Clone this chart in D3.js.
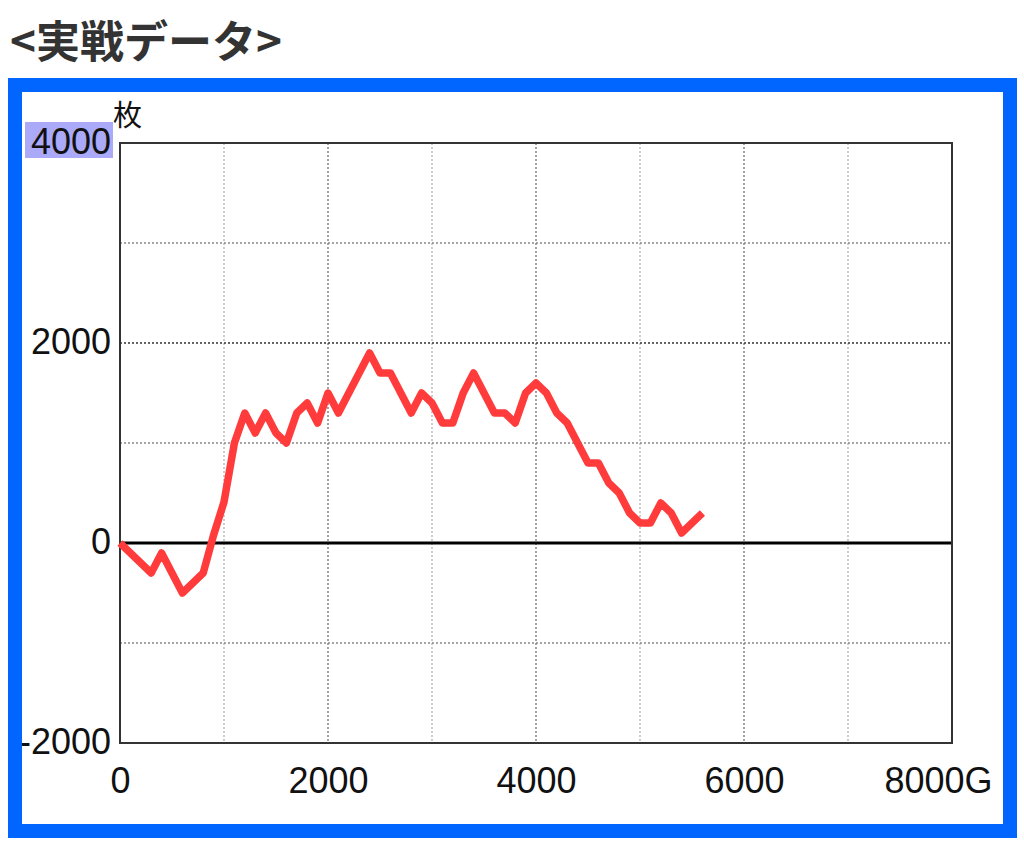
<!DOCTYPE html>
<html><head><meta charset="utf-8">
<script src="https://cdn.jsdelivr.net/npm/d3@7"></script>
<style>body{margin:0;background:#fff;}svg{display:block;}</style>
</head><body>
<script>
const title = "<実戦データ>";
const yUnit = "枚";
const games = [0,300,400,600,800,900,1000,1100,1200,1300,1400,1500,1600,1700,1800,1900,2000,2100,2400,2500,2600,2800,2900,3000,3100,3200,3300,3400,3600,3700,3800,3900,4000,4100,4200,4300,4500,4600,4700,4800,4900,5000,5100,5200,5300,5400,5600];
const coins = [0,-300,-100,-500,-300,80,410,1000,1300,1100,1300,1100,1000,1300,1400,1200,1500,1300,1900,1700,1700,1300,1500,1400,1200,1200,1500,1700,1300,1300,1200,1500,1600,1500,1300,1200,800,800,600,500,300,200,200,400,300,100,300];
const xTicks = [0,2000,4000,6000,8000];
const yTicks = [-2000,0,2000,4000];
const xGrid = [1000,2000,3000,4000,5000,6000,7000];
const yGrid = [-1000,1000,2000,3000];

const W=1024,H=867;
const svg=d3.select("body").append("svg").attr("width",W).attr("height",H);
const L=120,R=952,T=143,B=743;
const x=d3.scaleLinear().domain([0,8000]).range([L,R]);
const y=d3.scaleLinear().domain([-2000,4000]).range([B,T]);
const font="'Liberation Sans', Arial, sans-serif";

svg.append("text").attr("x",10).attr("y",58).text(title)
  .attr("font-family","'Noto Sans CJK JP', sans-serif").attr("font-weight","bold")
  .attr("font-size",44).attr("fill","#333");

// grid
svg.append("g").selectAll("line").data(xGrid).join("line")
  .attr("x1",d=>x(d)).attr("x2",d=>x(d)).attr("y1",T).attr("y2",B)
  .attr("stroke",d=>d%2000===0?"#666":"#aaa").attr("stroke-width",1.2).attr("stroke-dasharray","2,2");
svg.append("g").selectAll("line").data(yGrid).join("line")
  .attr("y1",d=>y(d)).attr("y2",d=>y(d)).attr("x1",L).attr("x2",R)
  .attr("stroke",d=>d%2000===0?"#333":"#888").attr("stroke-width",1.4).attr("stroke-dasharray","2,2");
svg.append("line").attr("x1",L).attr("x2",R).attr("y1",y(0)).attr("y2",y(0))
  .attr("stroke","#000").attr("stroke-width",3);
svg.append("rect").attr("x",L).attr("y",T).attr("width",R-L).attr("height",B-T)
  .attr("fill","none").attr("stroke","#333").attr("stroke-width",2);

// y labels
svg.append("rect").attr("x",25).attr("y",122).attr("width",88).attr("height",36).attr("fill","#aaaaf8");
const yAxis=d3.axisLeft(y).tickValues(yTicks).tickSize(0).tickPadding(9).tickFormat(d=>String(d));
const gy=svg.append("g").attr("transform",`translate(${L},0)`).call(yAxis);
gy.select(".domain").remove();
gy.selectAll("text").attr("font-family",font).attr("font-size",36).attr("fill","#111").attr("dy",10);

svg.append("text").attr("x",113).attr("y",126).text(yUnit)
  .attr("font-family","'Noto Sans CJK JP', sans-serif").attr("font-size",29).attr("fill","#111");

// x labels
const xAxis=d3.axisBottom(x).tickValues(xTicks).tickSize(0).tickPadding(0)
  .tickFormat(d=>d===8000?"8000G":String(d));
const gx=svg.append("g").attr("transform",`translate(0,${B})`).call(xAxis);
gx.select(".domain").remove();
gx.selectAll("text").attr("font-family",font).attr("font-size",36).attr("fill","#111")
  .attr("dy",0).attr("y",50);
gx.selectAll(".tick").filter(d=>d===8000).select("text").attr("x",-14);

// line
const line=d3.line().x((d,i)=>x(games[i])).y((d,i)=>y(coins[i]));
svg.append("path").datum(coins).attr("d",line).attr("fill","none")
  .attr("stroke","#ff3b3b").attr("stroke-width",7.5).attr("stroke-linejoin","round").attr("stroke-linecap","butt");

// blue frame
svg.append("rect").attr("x",15).attr("y",85).attr("width",995).attr("height",746)
  .attr("fill","none").attr("stroke","#0066ff").attr("stroke-width",14);
</script>
</body></html>
